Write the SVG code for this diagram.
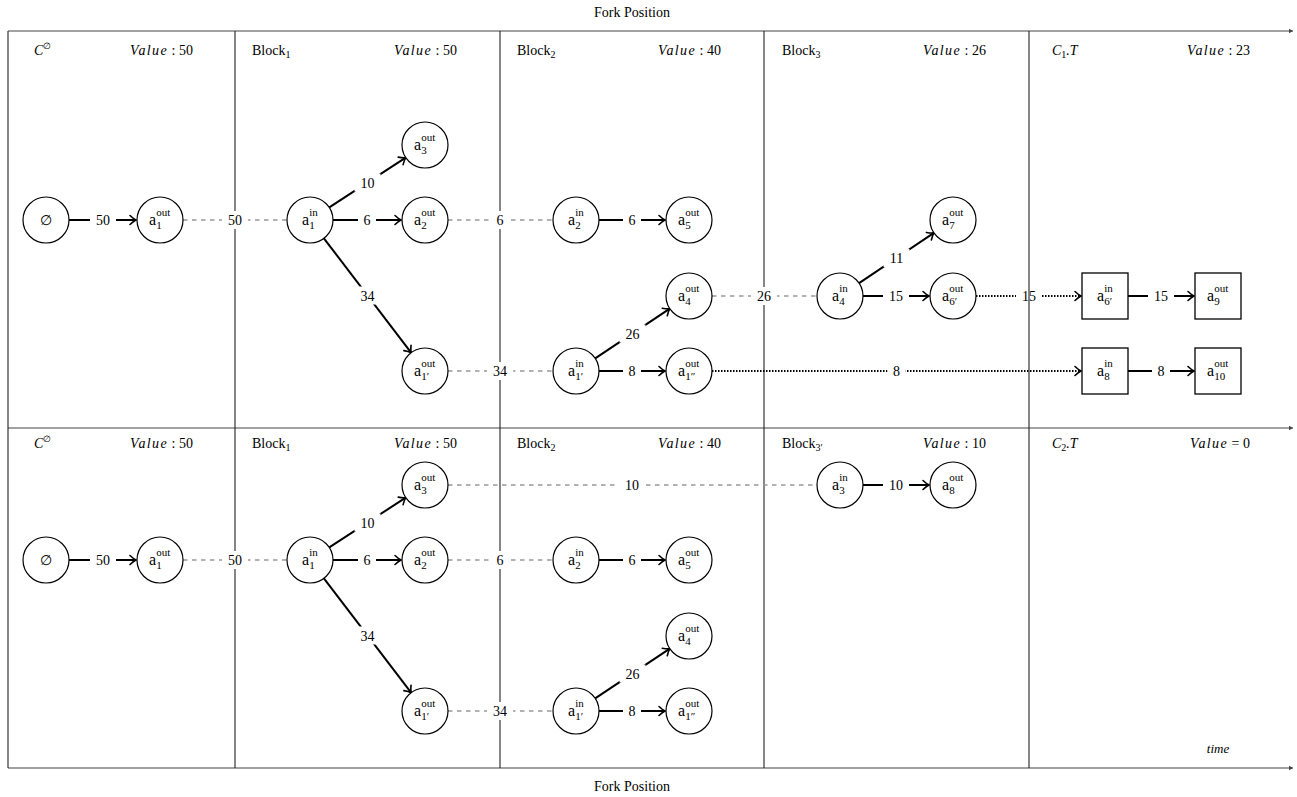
<svg xmlns="http://www.w3.org/2000/svg" width="1297" height="797" viewBox="0 0 1297 797">
<style>
.t{font-family:"Liberation Serif","DejaVu Serif",serif;fill:#000}
.hd{font-size:14px}
.it{font-style:italic}
.val{font-size:14px;text-anchor:end}
.ax{stroke:#444;stroke-width:1.2;fill:none;marker-end:url(#axa)}
.gl{stroke:#222;stroke-width:1.1;fill:none}
.s{stroke:#000;stroke-width:2;fill:none;marker-end:url(#arr)}
.d{stroke:#999;stroke-width:1.5;fill:none;stroke-dasharray:4.5 4.5}
.o{stroke:#000;stroke-width:2;fill:none;stroke-dasharray:1.5 1.5;marker-end:url(#arr)}
.bg{fill:#fff}
.el{font-size:14px;text-anchor:middle}
.c{fill:#fff;stroke:#000;stroke-width:1.2}
.q{fill:#fff;stroke:#000;stroke-width:1.3}
.na{font-size:16px}
.ns{font-size:11px}
</style>
<defs>
<marker id="arr" viewBox="-8 -6 10 12" refX="0" refY="0" markerWidth="10" markerHeight="12" markerUnits="userSpaceOnUse" orient="auto">
<path d="M-6,-4.5 Q-2.5,-1.2 0,0 Q-2.5,1.2 -6,4.5" fill="none" stroke="#000" stroke-width="1.6" stroke-linecap="round"/>
</marker>
<marker id="axa" viewBox="-5 -3 6 6" refX="0" refY="0" markerWidth="6" markerHeight="6" markerUnits="userSpaceOnUse" orient="auto">
<path d="M-4,-2.2 L0,0 L-4,2.2 Z" fill="#444"/>
</marker>
</defs>
<rect width="1297" height="797" fill="#fff"/>

<g id="frame">
<line class="ax" x1="8" y1="31" x2="1293" y2="31"/>
<line class="ax" x1="8" y1="428" x2="1293" y2="428"/>
<line class="ax" x1="8" y1="768" x2="1293" y2="768"/>
<line class="gl" x1="8" y1="31" x2="8" y2="768"/>
<line class="gl" x1="235" y1="31" x2="235" y2="768"/>
<line class="gl" x1="500" y1="31" x2="500" y2="768"/>
<line class="gl" x1="764" y1="31" x2="764" y2="768"/>
<text class="t hd" x="632" y="17" text-anchor="middle" font-size="13">Fork Position</text>
<text class="t hd" x="632" y="791" text-anchor="middle" font-size="13">Fork Position</text>
<text class="t it" x="1218" y="753" text-anchor="middle" font-size="13">time</text>
</g>

<g id="headers">
<text class="t hd it" x="34" y="55">C<tspan font-size="9" dy="-6" font-style="normal">∅</tspan></text>
<text class="t val" x="193" y="55"><tspan class="it" letter-spacing="1.4">Value</tspan> : 50</text>
<text class="t hd" x="252" y="55">Block<tspan font-size="10" dy="3">1</tspan></text>
<text class="t val" x="457" y="55"><tspan class="it" letter-spacing="1.4">Value</tspan> : 50</text>
<text class="t hd" x="517" y="55">Block<tspan font-size="10" dy="3">2</tspan></text>
<text class="t val" x="721" y="55"><tspan class="it" letter-spacing="1.4">Value</tspan> : 40</text>
<text class="t hd" x="782" y="55">Block<tspan font-size="10" dy="3">3</tspan></text>
<text class="t val" x="986" y="55"><tspan class="it" letter-spacing="1.4">Value</tspan> : 26</text>
<text class="t hd it" x="1052" y="55">C<tspan font-size="10" dy="3" font-style="normal">1</tspan><tspan dy="-3">.T</tspan></text>
<text class="t val" x="1250" y="55"><tspan class="it" letter-spacing="1.4">Value</tspan> : 23</text>

<text class="t hd it" x="34" y="448">C<tspan font-size="9" dy="-6" font-style="normal">∅</tspan></text>
<text class="t val" x="193" y="448"><tspan class="it" letter-spacing="1.4">Value</tspan> : 50</text>
<text class="t hd" x="252" y="448">Block<tspan font-size="10" dy="3">1</tspan></text>
<text class="t val" x="457" y="448"><tspan class="it" letter-spacing="1.4">Value</tspan> : 50</text>
<text class="t hd" x="517" y="448">Block<tspan font-size="10" dy="3">2</tspan></text>
<text class="t val" x="721" y="448"><tspan class="it" letter-spacing="1.4">Value</tspan> : 40</text>
<text class="t hd" x="782" y="448">Block<tspan font-size="10" dy="3">3′</tspan></text>
<text class="t val" x="986" y="448"><tspan class="it" letter-spacing="1.4">Value</tspan> : 10</text>
<text class="t hd it" x="1052" y="448">C<tspan font-size="10" dy="3" font-style="normal">2</tspan><tspan dy="-3">.T</tspan></text>
<text class="t val" x="1250" y="448"><tspan class="it" letter-spacing="1.4">Value</tspan> = 0</text>
</g>

<g id="connectors">
<!-- top -->
<path class="s" d="M69,220 L136,220"/>
<rect class="bg" x="90" y="211" width="26" height="18"/><text class="t el" x="103" y="225">50</text>
<path class="d" d="M183,220 L287,220"/>
<rect class="bg" x="222" y="211" width="26" height="18"/><text class="t el" x="235" y="225">50</text>
<path class="s" d="M333,220 L401,220"/>
<rect class="bg" x="358" y="211" width="18" height="18"/><text class="t el" x="367" y="225">6</text>
<path class="s" d="M329.3,207.4 L405.7,157.6"/>
<rect class="bg" x="354.5" y="173.5" width="26" height="18"/><text class="t el" x="367.5" y="187.5">10</text>
<path class="s" d="M323.9,238.3 L411.1,352.7"/>
<rect class="bg" x="354.5" y="286.5" width="26" height="18"/><text class="t el" x="367.5" y="300.5">34</text>
<path class="d" d="M448,220 L553,220"/>
<rect class="bg" x="491" y="211" width="18" height="18"/><text class="t el" x="500" y="225">6</text>
<path class="s" d="M599,220 L665,220"/>
<rect class="bg" x="623" y="211" width="18" height="18"/><text class="t el" x="632" y="225">6</text>
<path class="d" d="M448,371 L553,371"/>
<rect class="bg" x="487" y="362" width="26" height="18"/><text class="t el" x="500" y="376">34</text>
<path class="s" d="M595.2,358.3 L669.8,308.7"/>
<rect class="bg" x="619.5" y="324.5" width="26" height="18"/><text class="t el" x="632.5" y="338.5">26</text>
<path class="s" d="M599,371 L665,371"/>
<rect class="bg" x="623" y="362" width="18" height="18"/><text class="t el" x="632" y="376">8</text>
<path class="d" d="M712,296 L817,296"/>
<rect class="bg" x="751" y="287" width="26" height="18"/><text class="t el" x="764" y="301">26</text>
<path class="s" d="M859.1,283.2 L933.9,232.8"/>
<rect class="bg" x="883.5" y="249" width="26" height="18"/><text class="t el" x="896.5" y="263">11</text>
<path class="s" d="M863,296 L929,296"/>
<rect class="bg" x="883" y="287" width="26" height="18"/><text class="t el" x="896" y="301">15</text>
<path class="o" d="M976,296 L1081,296"/>
<rect class="bg" x="1016" y="287" width="26" height="18"/><text class="t el" x="1029" y="301">15</text>
<path class="o" d="M712,371 L1081,371"/>
<rect class="bg" x="887.5" y="362" width="18" height="18"/><text class="t el" x="896.5" y="376">8</text>
<path class="s" d="M1128,296 L1194,296"/>
<rect class="bg" x="1148" y="287" width="26" height="18"/><text class="t el" x="1161" y="301">15</text>
<path class="s" d="M1128,371 L1194,371"/>
<rect class="bg" x="1152" y="362" width="18" height="18"/><text class="t el" x="1161" y="376">8</text>
<!-- bottom -->
<path class="s" d="M69,560 L136,560"/>
<rect class="bg" x="90" y="551" width="26" height="18"/><text class="t el" x="103" y="565">50</text>
<path class="d" d="M183,560 L287,560"/>
<rect class="bg" x="222" y="551" width="26" height="18"/><text class="t el" x="235" y="565">50</text>
<path class="s" d="M333,560 L401,560"/>
<rect class="bg" x="358" y="551" width="18" height="18"/><text class="t el" x="367" y="565">6</text>
<path class="s" d="M329.3,547.4 L405.7,497.6"/>
<rect class="bg" x="354.5" y="513.5" width="26" height="18"/><text class="t el" x="367.5" y="527.5">10</text>
<path class="s" d="M323.9,578.3 L411.1,692.7"/>
<rect class="bg" x="354.5" y="626.5" width="26" height="18"/><text class="t el" x="367.5" y="640.5">34</text>
<path class="d" d="M448,560 L553,560"/>
<rect class="bg" x="491" y="551" width="18" height="18"/><text class="t el" x="500" y="565">6</text>
<path class="s" d="M599,560 L665,560"/>
<rect class="bg" x="623" y="551" width="18" height="18"/><text class="t el" x="632" y="565">6</text>
<path class="d" d="M448,711 L553,711"/>
<rect class="bg" x="487" y="702" width="26" height="18"/><text class="t el" x="500" y="716">34</text>
<path class="s" d="M595.2,698.3 L669.8,648.7"/>
<rect class="bg" x="619.5" y="664.5" width="26" height="18"/><text class="t el" x="632.5" y="678.5">26</text>
<path class="s" d="M599,711 L665,711"/>
<rect class="bg" x="623" y="702" width="18" height="18"/><text class="t el" x="632" y="716">8</text>
<path class="d" d="M448,485 L817,485"/>
<rect class="bg" x="619" y="476" width="26" height="18"/><text class="t el" x="632" y="490">10</text>
<path class="s" d="M863,485 L929,485"/>
<rect class="bg" x="883" y="476" width="26" height="18"/><text class="t el" x="896" y="490">10</text>
</g>

<g id="frame-right">
<line class="gl" x1="1029" y1="31" x2="1029" y2="768"/>
</g>

<!-- top nodes -->
<g id="t-empty"><circle class="c" cx="46" cy="220" r="23"/><text class="t" x="46" y="225" text-anchor="middle" font-size="14">∅</text></g>
<g id="t-a1out"><circle class="c" cx="160" cy="220" r="23"/><text class="t na" x="149" y="225">a</text><text class="t ns" x="156.2" y="216">out</text><text class="t ns" x="156.2" y="229">1</text></g>
<g id="t-a1in"><circle class="c" cx="310" cy="220" r="23"/><text class="t na" x="302" y="225">a</text><text class="t ns" x="309.2" y="216">in</text><text class="t ns" x="309.2" y="229">1</text></g>
<g id="t-a3out"><circle class="c" cx="425" cy="145" r="23"/><text class="t na" x="414" y="150">a</text><text class="t ns" x="421.2" y="141">out</text><text class="t ns" x="421.2" y="154">3</text></g>
<g id="t-a2out"><circle class="c" cx="425" cy="220" r="23"/><text class="t na" x="414" y="225">a</text><text class="t ns" x="421.2" y="216">out</text><text class="t ns" x="421.2" y="229">2</text></g>
<g id="t-a1pout"><circle class="c" cx="425" cy="371" r="23"/><text class="t na" x="414" y="376">a</text><text class="t ns" x="421.2" y="367">out</text><text class="t ns" x="421.2" y="380">1′</text></g>
<g id="t-a2in"><circle class="c" cx="576" cy="220" r="23"/><text class="t na" x="568" y="225">a</text><text class="t ns" x="575.2" y="216">in</text><text class="t ns" x="575.2" y="229">2</text></g>
<g id="t-a5out"><circle class="c" cx="689" cy="220" r="23"/><text class="t na" x="678" y="225">a</text><text class="t ns" x="685.2" y="216">out</text><text class="t ns" x="685.2" y="229">5</text></g>
<g id="t-a1pin"><circle class="c" cx="576" cy="371" r="23"/><text class="t na" x="568" y="376">a</text><text class="t ns" x="575.2" y="367">in</text><text class="t ns" x="575.2" y="380">1′</text></g>
<g id="t-a4out"><circle class="c" cx="689" cy="296" r="23"/><text class="t na" x="678" y="301">a</text><text class="t ns" x="685.2" y="292">out</text><text class="t ns" x="685.2" y="305">4</text></g>
<g id="t-a1ppout"><circle class="c" cx="689" cy="371" r="23"/><text class="t na" x="678" y="376">a</text><text class="t ns" x="685.2" y="367">out</text><text class="t ns" x="685.2" y="380">1″</text></g>
<g id="t-a4in"><circle class="c" cx="840" cy="296" r="23"/><text class="t na" x="832" y="301">a</text><text class="t ns" x="839.2" y="292">in</text><text class="t ns" x="839.2" y="305">4</text></g>
<g id="t-a7out"><circle class="c" cx="953" cy="220" r="23"/><text class="t na" x="942" y="225">a</text><text class="t ns" x="949.2" y="216">out</text><text class="t ns" x="949.2" y="229">7</text></g>
<g id="t-a6pout"><circle class="c" cx="953" cy="296" r="23"/><text class="t na" x="942" y="301">a</text><text class="t ns" x="949.2" y="292">out</text><text class="t ns" x="949.2" y="305">6′</text></g>
<g id="t-a6pin"><rect class="q" x="1082" y="273" width="46" height="46"/><text class="t na" x="1097" y="301">a</text><text class="t ns" x="1104.2" y="292">in</text><text class="t ns" x="1104.2" y="305">6′</text></g>
<g id="t-a9out"><rect class="q" x="1195" y="273" width="46" height="46"/><text class="t na" x="1207" y="301">a</text><text class="t ns" x="1214.2" y="292">out</text><text class="t ns" x="1214.2" y="305">9</text></g>
<g id="t-a8in"><rect class="q" x="1082" y="348" width="46" height="46"/><text class="t na" x="1097" y="376">a</text><text class="t ns" x="1104.2" y="367">in</text><text class="t ns" x="1104.2" y="380">8</text></g>
<g id="t-a10out"><rect class="q" x="1195" y="348" width="46" height="46"/><text class="t na" x="1207" y="376">a</text><text class="t ns" x="1214.2" y="367">out</text><text class="t ns" x="1214.2" y="380">10</text></g>

<!-- bottom nodes -->
<g id="b-empty"><circle class="c" cx="46" cy="560" r="23"/><text class="t" x="46" y="565" text-anchor="middle" font-size="14">∅</text></g>
<g id="b-a1out"><circle class="c" cx="160" cy="560" r="23"/><text class="t na" x="149" y="565">a</text><text class="t ns" x="156.2" y="556">out</text><text class="t ns" x="156.2" y="569">1</text></g>
<g id="b-a1in"><circle class="c" cx="310" cy="560" r="23"/><text class="t na" x="302" y="565">a</text><text class="t ns" x="309.2" y="556">in</text><text class="t ns" x="309.2" y="569">1</text></g>
<g id="b-a3out"><circle class="c" cx="425" cy="485" r="23"/><text class="t na" x="414" y="490">a</text><text class="t ns" x="421.2" y="481">out</text><text class="t ns" x="421.2" y="494">3</text></g>
<g id="b-a2out"><circle class="c" cx="425" cy="560" r="23"/><text class="t na" x="414" y="565">a</text><text class="t ns" x="421.2" y="556">out</text><text class="t ns" x="421.2" y="569">2</text></g>
<g id="b-a1pout"><circle class="c" cx="425" cy="711" r="23"/><text class="t na" x="414" y="716">a</text><text class="t ns" x="421.2" y="707">out</text><text class="t ns" x="421.2" y="720">1′</text></g>
<g id="b-a2in"><circle class="c" cx="576" cy="560" r="23"/><text class="t na" x="568" y="565">a</text><text class="t ns" x="575.2" y="556">in</text><text class="t ns" x="575.2" y="569">2</text></g>
<g id="b-a5out"><circle class="c" cx="689" cy="560" r="23"/><text class="t na" x="678" y="565">a</text><text class="t ns" x="685.2" y="556">out</text><text class="t ns" x="685.2" y="569">5</text></g>
<g id="b-a1pin"><circle class="c" cx="576" cy="711" r="23"/><text class="t na" x="568" y="716">a</text><text class="t ns" x="575.2" y="707">in</text><text class="t ns" x="575.2" y="720">1′</text></g>
<g id="b-a4out"><circle class="c" cx="689" cy="636" r="23"/><text class="t na" x="678" y="641">a</text><text class="t ns" x="685.2" y="632">out</text><text class="t ns" x="685.2" y="645">4</text></g>
<g id="b-a1ppout"><circle class="c" cx="689" cy="711" r="23"/><text class="t na" x="678" y="716">a</text><text class="t ns" x="685.2" y="707">out</text><text class="t ns" x="685.2" y="720">1″</text></g>
<g id="b-a3in"><circle class="c" cx="840" cy="485" r="23"/><text class="t na" x="832" y="490">a</text><text class="t ns" x="839.2" y="481">in</text><text class="t ns" x="839.2" y="494">3</text></g>
<g id="b-a8out"><circle class="c" cx="953" cy="485" r="23"/><text class="t na" x="942" y="490">a</text><text class="t ns" x="949.2" y="481">out</text><text class="t ns" x="949.2" y="494">8</text></g>
</svg>
